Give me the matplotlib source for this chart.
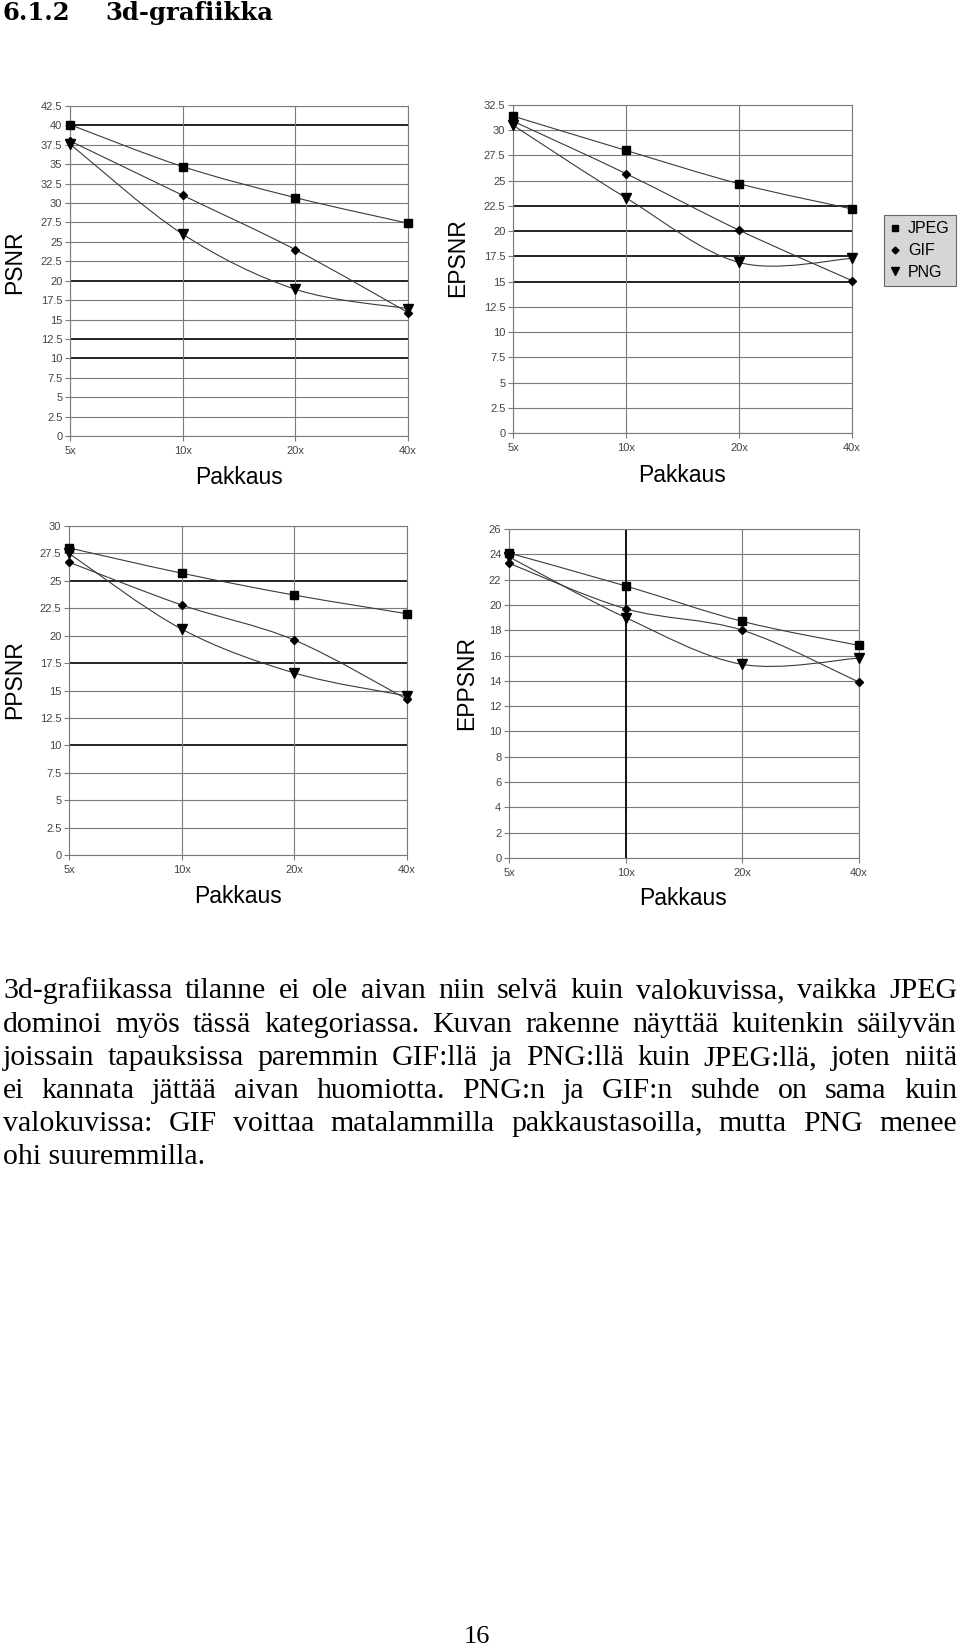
import matplotlib
matplotlib.use('Agg')
import matplotlib.pyplot as plt
from matplotlib.path import Path
from matplotlib.patches import PathPatch
from matplotlib.lines import Line2D
import numpy as np

W, H = 960, 1651

# ---------------- data ----------------
categories = ['5x', '10x', '20x', '40x']
series_names = ['JPEG', 'GIF', 'PNG']

psnr_jpeg = [40.1, 34.7, 30.7, 27.4]
psnr_gif = [38.0, 31.0, 24.0, 15.9]
psnr_png = [37.6, 26.0, 18.9, 16.4]

epsnr_jpeg = [31.4, 28.0, 24.7, 22.2]
epsnr_gif = [30.9, 25.7, 20.1, 15.1]
epsnr_png = [30.5, 23.3, 16.9, 17.3]

ppsnr_jpeg = [28.0, 25.7, 23.7, 22.0]
ppsnr_gif = [26.7, 22.8, 19.6, 14.2]
ppsnr_png = [27.5, 20.6, 16.6, 14.5]

eppsnr_jpeg = [24.1, 21.5, 18.7, 16.8]
eppsnr_gif = [23.3, 19.7, 18.0, 13.9]
eppsnr_png = [23.8, 19.0, 15.3, 15.8]

ylabels = ['PSNR', 'EPSNR', 'PPSNR', 'EPPSNR']
xlabel = 'Pakkaus'
title_num = '6.1.2'
title_text = '3d-grafiikka'
paragraph_lines = [
    '3d-grafiikassa tilanne ei ole aivan niin selvä kuin valokuvissa, vaikka JPEG',
    'dominoi myös tässä kategoriassa. Kuvan rakenne näyttää kuitenkin säilyvän',
    'joissain tapauksissa paremmin GIF:llä ja PNG:llä kuin JPEG:llä, joten niitä',
    'ei kannata jättää aivan huomiotta. PNG:n ja GIF:n suhde on sama kuin',
    'valokuvissa: GIF voittaa matalammilla pakkaustasoilla, mutta PNG menee',
    'ohi suuremmilla.',
]
page_number = '16'

# ---------------- style / layout ----------------
SANS = ['Liberation Sans', 'DejaVu Sans']
SERIF = ['Liberation Serif', 'DejaVu Serif']

charts = [
    dict(series=[psnr_jpeg, psnr_gif, psnr_png], ymax=42.5, ystep=2.5,
         rect=(70, 106, 408, 436), ylab_pos=(15, 262), xlab_pos=(239, 477),
         dark_h=[40, 20, 12.5, 10], dark_v=[]),
    dict(series=[epsnr_jpeg, epsnr_gif, epsnr_png], ymax=32.5, ystep=2.5,
         rect=(513, 105, 852, 433), ylab_pos=(458, 258), xlab_pos=(682, 475),
         dark_h=[22.5, 20, 17.5, 15], dark_v=[]),
    dict(series=[ppsnr_jpeg, ppsnr_gif, ppsnr_png], ymax=30, ystep=2.5,
         rect=(69, 526, 407, 855), ylab_pos=(15, 680), xlab_pos=(238, 896),
         dark_h=[25, 17.5, 10], dark_v=[]),
    dict(series=[eppsnr_jpeg, eppsnr_gif, eppsnr_png], ymax=26, ystep=2,
         rect=(509, 529, 859, 858), ylab_pos=(467, 683), xlab_pos=(683, 898),
         dark_h=[], dark_v=[1]),
]
markers = [dict(marker='s', markersize=6.0), dict(marker='D', markersize=3.8),
           dict(marker='v', markersize=6.5)]
legend_markers = [dict(marker='s', markersize=5.0), dict(marker='D', markersize=3.5),
                  dict(marker='v', markersize=5.5)]


def px_rect(l, t, r, b):
    return [l / W, 1 - b / H, (r - l) / W, (b - t) / H]


def smooth_path(xs, ys):
    pts = np.column_stack([xs, ys]).astype(float)
    n = len(pts)
    verts = [pts[0]]
    codes = [Path.MOVETO]
    for i in range(n - 1):
        p0 = pts[i - 1] if i > 0 else pts[i]
        p1 = pts[i]
        p2 = pts[i + 1]
        p3 = pts[i + 2] if i + 2 < n else pts[i + 1]
        c1 = p1 + (p2 - p0) / 6.0
        c2 = p2 - (p3 - p1) / 6.0
        verts += [c1, c2, p2]
        codes += [Path.CURVE4] * 3
    return Path(verts, codes)


fig = plt.figure(figsize=(W / 100, H / 100), dpi=100)
fig.patch.set_facecolor('white')

for ci, ch in enumerate(charts):
    ax = fig.add_axes(px_rect(*ch['rect']))
    x = np.arange(len(categories))
    ax.set_xlim(0, len(categories) - 1)
    ax.set_ylim(0, ch['ymax'])
    yt = np.arange(0, ch['ymax'] + 1e-9, ch['ystep'])
    ax.set_yticks(yt)
    ax.set_yticklabels(['%g' % v for v in yt])
    ax.set_xticks(x)
    ax.set_xticklabels(categories)
    for v in yt:
        dark = any(abs(v - d) < 1e-6 for d in ch['dark_h'])
        ax.axhline(v, color='#111111' if dark else '#7a7a7a',
                   lw=1.3 if dark else 0.8, zorder=1)
    for xi in x:
        dark = xi in ch['dark_v']
        ax.axvline(xi, color='#111111' if dark else '#7a7a7a',
                   lw=1.4 if dark else 0.8, zorder=1)
    for sp in ax.spines.values():
        sp.set_color('#7a7a7a')
        sp.set_linewidth(0.8)
    ax.tick_params(axis='both', colors='#7a7a7a', labelcolor='#444444',
                   labelsize=8, length=3.5, width=0.8, direction='out')
    ax.tick_params(axis='y', pad=2)
    ax.tick_params(axis='x', pad=4)
    for lab in ax.get_xticklabels() + ax.get_yticklabels():
        lab.set_family(SANS)
    for s, vals in enumerate(ch['series']):
        ax.add_patch(PathPatch(smooth_path(x, vals), fill=False,
                               edgecolor='#3a3a3a', lw=0.8, zorder=3))
        ax.plot(x, vals, ls='none', color='black', zorder=4, clip_on=False,
                **markers[s])
    fig.text(ch['ylab_pos'][0] / W, 1 - ch['ylab_pos'][1] / H, ylabels[ci],
             rotation=90, ha='center', va='center', fontsize=16.5,
             family=SANS, color='black')
    fig.text(ch['xlab_pos'][0] / W, 1 - ch['xlab_pos'][1] / H, xlabel,
             ha='center', va='center', fontsize=16.5, family=SANS,
             color='black')

# legend
handles = [Line2D([], [], ls='none', color='black', **m) for m in legend_markers]
leg = fig.legend(handles, series_names, loc='upper left',
                 bbox_to_anchor=(884 / W, 1 - 215 / H), frameon=True,
                 fancybox=False, facecolor='#d6d6d6', edgecolor='#666666',
                 framealpha=1, prop=dict(family=SANS, size=11.5),
                 handlelength=0.6, handletextpad=0.5, borderpad=0.4,
                 labelspacing=0.42, borderaxespad=0)
leg.get_frame().set_linewidth(0.8)

# title
fig.text(3 / W, 1 - 20 / H, title_num, ha='left', va='baseline',
         fontsize=17.5, fontweight='bold', family=['DejaVu Serif'])
fig.text(105 / W, 1 - 20 / H, title_text, ha='left', va='baseline',
         fontsize=17.5, fontweight='bold', family=['DejaVu Serif'])

# paragraph (justified)
renderer = fig.canvas.get_renderer()
x0, x1 = 3, 957
FS = 21.5
baselines = [998, 1032, 1065, 1098, 1131, 1164]
for li, line in enumerate(paragraph_lines):
    yb = 1 - baselines[li] / H
    if li == len(paragraph_lines) - 1:
        fig.text(x0 / W, yb, line, ha='left', va='baseline', fontsize=FS,
                 family=SERIF)
        continue
    words = line.split(' ')
    texts = [fig.text(0, yb, w, ha='left', va='baseline', fontsize=FS,
                      family=SERIF) for w in words]
    widths = [t.get_window_extent(renderer).width for t in texts]
    gap = (x1 - x0 - sum(widths)) / (len(words) - 1)
    xp = x0
    for t, w in zip(texts, widths):
        t.set_x(xp / W)
        xp += w + gap

fig.text(477 / W, 1 - 1643 / H, page_number, ha='center', va='baseline',
         fontsize=19, family=SERIF)

fig.savefig('out.png', dpi=100, facecolor='white')
